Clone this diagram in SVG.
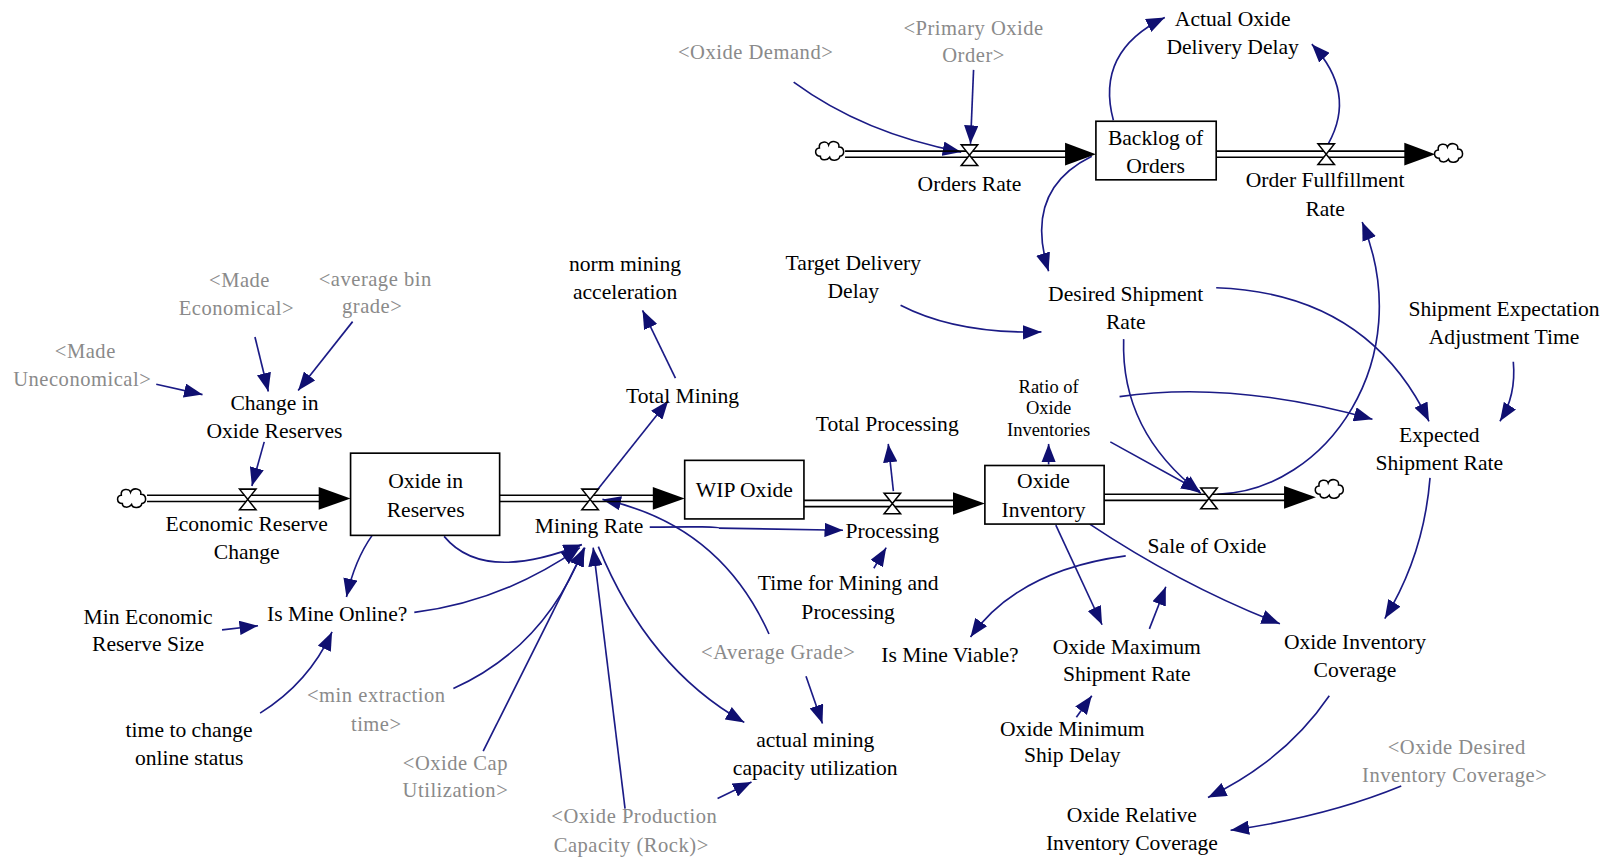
<svg xmlns="http://www.w3.org/2000/svg" width="1612" height="857" viewBox="0 0 1612 857">
<style>
.t{font-family:"Liberation Serif","Times New Roman",serif;font-size:21px;fill:#000;text-anchor:middle}
.s{font-family:"Liberation Serif","Times New Roman",serif;font-size:18px;fill:#000;text-anchor:middle}
.g{font-family:"Liberation Serif","Times New Roman",serif;font-size:20px;fill:#8a8a8a;text-anchor:middle;letter-spacing:0.5px}
.c{fill:none;stroke:#1b1b86;stroke-width:1.6;marker-end:url(#ah)}
.p{stroke:#000;stroke-width:1.6}
.box{fill:#fff;stroke:#000;stroke-width:1.6}
.v{fill:#fff;stroke:#000;stroke-width:1.5}
.cl{fill:#fff;stroke:#000;stroke-width:1.5}
.fa{fill:#000}
</style>
<defs>
<marker id="ah" markerUnits="userSpaceOnUse" markerWidth="20" markerHeight="14" refX="18" refY="7" orient="auto">
<path d="M0,0 L18,7 L0,14 Z" fill="#0f0f70"/>
</marker>
<path id="cloud" d="M-10,5 C-16,5 -16,-3 -11,-3 C-12,-10 -3,-10 -2,-6 C0,-11 9,-10 8,-4 C14,-4 14,5 9,5 C8,10 0,10 -1,6 C-4,10 -10,9 -10,5 Z"/>
<path id="valve" d="M-8,-10 H8 L-8,10 H8 Z"/>
</defs>
<rect width="1612" height="857" fill="#fff"/>
<g transform="scale(1.02806,1.02758)">
<g id="connectors">
<path class="c" d="M248,328 L261,381"/>
<path class="c" d="M343,313 L290,380"/>
<path class="c" d="M152,374 L197,384"/>
<path class="c" d="M257,430 L245,473"/>
<path class="c" d="M362,521 Q345,545 337,581"/>
<path class="c" d="M432,522 Q470,568 566,530"/>
<path class="c" d="M403,596 Q490,585 564,533"/>
<path class="c" d="M216,613 L251,609"/>
<path class="c" d="M253,694 Q300,665 323,615"/>
<path class="c" d="M441,670 Q530,630 568,533"/>
<path class="c" d="M470,731 L569,533"/>
<path class="c" d="M608,787 L577,533"/>
<path class="c" d="M582,532 Q630,650 724,703"/>
<path class="c" d="M748,617 Q700,510 586,486"/>
<path class="c" d="M784,658 L800,704"/>
<path class="c" d="M698,777 L731,761"/>
<path class="c" d="M580,478 L650,390"/>
<path class="c" d="M657,368 L625,302"/>
<path class="c" d="M632,513 Q700,512 700,514 L820,516"/>
<path class="c" d="M869,478 L864,432"/>
<path class="c" d="M850,553 L862,533"/>
<path class="c" d="M876,297 Q930,325 1013,323"/>
<path class="c" d="M1020,452 L1020,432"/>
<path class="c" d="M1080,430 L1167,478"/>
<path class="c" d="M1093,330 Q1090,420 1168,480"/>
<path class="c" d="M1089,386 Q1200,370 1335,408"/>
<path class="c" d="M1183,280 Q1330,285 1390,410"/>
<path class="c" d="M1184,481 C1290,478 1380,350 1325,216"/>
<path class="c" d="M1472,352 Q1475,385 1459,410"/>
<path class="c" d="M1391,465 Q1385,540 1347,602"/>
<path class="c" d="M1060,510 Q1150,570 1245,607"/>
<path class="c" d="M1027,511 L1072,608"/>
<path class="c" d="M1118,612 L1134,571"/>
<path class="c" d="M1095,541 Q990,555 944,620"/>
<path class="c" d="M1047,698 L1062,677"/>
<path class="c" d="M1293,677 Q1250,740 1175,776"/>
<path class="c" d="M1363,765 Q1290,795 1197,808"/>
<path class="c" d="M1083,117 Q1065,50 1133,17"/>
<path class="c" d="M1292,140 Q1320,90 1276,43"/>
<path class="c" d="M1062,152 Q995,185 1020,264"/>
<path class="c" d="M772,80 Q840,130 935,148"/>
<path class="c" d="M947,68 L944,140"/>
</g>
<g id="flows">
<line class="p" x1="822" y1="147" x2="1040" y2="147"/><line class="p" x1="822" y1="153" x2="1040" y2="153"/>
<polygon class="fa" points="1036,139 1066,150 1036,161"/>
<line class="p" x1="1183" y1="147" x2="1370" y2="147"/><line class="p" x1="1183" y1="153" x2="1370" y2="153"/>
<polygon class="fa" points="1366,139 1396,150 1366,161"/>
<line class="p" x1="143" y1="482" x2="312" y2="482"/><line class="p" x1="143" y1="488" x2="312" y2="488"/>
<polygon class="fa" points="310,474 341,485 310,496"/>
<line class="p" x1="486" y1="482" x2="638" y2="482"/><line class="p" x1="486" y1="488" x2="638" y2="488"/>
<polygon class="fa" points="635,474 666,485 635,496"/>
<line class="p" x1="782" y1="487" x2="930" y2="487"/><line class="p" x1="782" y1="493" x2="930" y2="493"/>
<polygon class="fa" points="927,479 958,490 927,501"/>
<line class="p" x1="1074" y1="481" x2="1252" y2="481"/><line class="p" x1="1074" y1="487" x2="1252" y2="487"/>
<polygon class="fa" points="1249,473 1280,484 1249,495"/>
<use href="#cloud" class="cl" x="808" y="147"/>
<use href="#cloud" class="cl" x="1410" y="149"/>
<use href="#cloud" class="cl" x="129" y="485"/>
<use href="#cloud" class="cl" x="1294" y="476"/>
</g>
<g id="orders-rate"><use href="#valve" class="v" x="943" y="151"/><text class="t" x="943" y="186">Orders Rate</text></g>
<g id="order-fulfillment-rate"><use href="#valve" class="v" x="1290" y="150"/><text class="t" x="1289" y="182">Order Fullfillment</text><text class="t" x="1289" y="210">Rate</text></g>
<g id="economic-reserve-change"><use href="#valve" class="v" x="241" y="486"/><text class="t" x="240" y="517">Economic Reserve</text><text class="t" x="240" y="544">Change</text></g>
<g id="mining-rate"><use href="#valve" class="v" x="574" y="486"/><text class="t" x="573" y="519">Mining Rate</text></g>
<g id="processing"><use href="#valve" class="v" x="868" y="490"/><text class="t" x="868" y="524">Processing</text></g>
<g id="sale-of-oxide"><use href="#valve" class="v" x="1176" y="485"/><text class="t" x="1174" y="538">Sale of Oxide</text></g>
<g id="backlog"><rect class="box" x="1066" y="118" width="117" height="57"/><text class="t" x="1124" y="141">Backlog of</text><text class="t" x="1124" y="168">Orders</text></g>
<g id="oxide-in-reserves"><rect class="box" x="341" y="441" width="145" height="80"/><text class="t" x="414" y="475">Oxide in</text><text class="t" x="414" y="503">Reserves</text></g>
<g id="wip-oxide"><rect class="box" x="666" y="448" width="116" height="57"/><text class="t" x="724" y="484">WIP Oxide</text></g>
<g id="oxide-inventory"><rect class="box" x="958" y="453" width="116" height="57"/><text class="t" x="1015" y="475">Oxide</text><text class="t" x="1015" y="503">Inventory</text></g>
<g id="oxide-demand"><text class="g" x="735" y="57">&lt;Oxide Demand&gt;</text></g>
<g id="primary-oxide-order"><text class="g" x="947" y="34">&lt;Primary Oxide</text><text class="g" x="947" y="60">Order&gt;</text></g>
<g id="actual-oxide-delivery-delay"><text class="t" x="1199" y="25">Actual Oxide</text><text class="t" x="1199" y="53">Delivery Delay</text></g>
<g id="norm-mining-acceleration"><text class="t" x="608" y="264">norm mining</text><text class="t" x="608" y="291">acceleration</text></g>
<g id="target-delivery-delay"><text class="t" x="830" y="263">Target Delivery</text><text class="t" x="830" y="290">Delay</text></g>
<g id="desired-shipment-rate"><text class="t" x="1095" y="293">Desired Shipment</text><text class="t" x="1095" y="320">Rate</text></g>
<g id="shipment-expectation-adjustment-time"><text class="t" x="1463" y="308">Shipment Expectation</text><text class="t" x="1463" y="335">Adjustment Time</text></g>
<g id="made-economical"><text class="g" x="233" y="279">&lt;Made</text><text class="g" x="230" y="307">Economical&gt;</text></g>
<g id="average-bin-grade"><text class="g" x="365" y="278">&lt;average bin</text><text class="g" x="362" y="305">grade&gt;</text></g>
<g id="made-uneconomical"><text class="g" x="83" y="348">&lt;Made</text><text class="g" x="80" y="376">Uneconomical&gt;</text></g>
<g id="change-in-oxide-reserves"><text class="t" x="267" y="399">Change in</text><text class="t" x="267" y="426">Oxide Reserves</text></g>
<g id="total-mining"><text class="t" x="664" y="392">Total Mining</text></g>
<g id="total-processing"><text class="t" x="863" y="419">Total Processing</text></g>
<g id="ratio-of-oxide-inventories"><text class="s" x="1020" y="382">Ratio of</text><text class="s" x="1020" y="403">Oxide</text><text class="s" x="1020" y="424">Inventories</text></g>
<g id="expected-shipment-rate"><text class="t" x="1400" y="430">Expected</text><text class="t" x="1400" y="457">Shipment Rate</text></g>
<g id="min-economic-reserve-size"><text class="t" x="144" y="607">Min Economic</text><text class="t" x="144" y="634">Reserve Size</text></g>
<g id="is-mine-online"><text class="t" x="328" y="604">Is Mine Online?</text></g>
<g id="time-to-change-online-status"><text class="t" x="184" y="717">time to change</text><text class="t" x="184" y="744">online status</text></g>
<g id="min-extraction-time"><text class="g" x="366" y="683">&lt;min extraction</text><text class="g" x="366" y="711">time&gt;</text></g>
<g id="oxide-cap-utilization"><text class="g" x="443" y="749">&lt;Oxide Cap</text><text class="g" x="443" y="776">Utilization&gt;</text></g>
<g id="oxide-production-capacity"><text class="g" x="617" y="801">&lt;Oxide Production</text><text class="g" x="614" y="829">Capacity (Rock)&gt;</text></g>
<g id="time-for-mining-and-processing"><text class="t" x="825" y="574">Time for Mining and</text><text class="t" x="825" y="602">Processing</text></g>
<g id="average-grade"><text class="g" x="757" y="641">&lt;Average Grade&gt;</text></g>
<g id="actual-mining-capacity-utilization"><text class="t" x="793" y="727">actual mining</text><text class="t" x="793" y="754">capacity utilization</text></g>
<g id="is-mine-viable"><text class="t" x="924" y="644">Is Mine Viable?</text></g>
<g id="oxide-maximum-shipment-rate"><text class="t" x="1096" y="636">Oxide Maximum</text><text class="t" x="1096" y="663">Shipment Rate</text></g>
<g id="oxide-minimum-ship-delay"><text class="t" x="1043" y="716">Oxide Minimum</text><text class="t" x="1043" y="742">Ship Delay</text></g>
<g id="oxide-inventory-coverage"><text class="t" x="1318" y="632">Oxide Inventory</text><text class="t" x="1318" y="659">Coverage</text></g>
<g id="oxide-desired-inventory-coverage"><text class="g" x="1417" y="734">&lt;Oxide Desired</text><text class="g" x="1415" y="761">Inventory Coverage&gt;</text></g>
<g id="oxide-relative-inventory-coverage"><text class="t" x="1101" y="800">Oxide Relative</text><text class="t" x="1101" y="827">Inventory Coverage</text></g>
</g>
</svg>
